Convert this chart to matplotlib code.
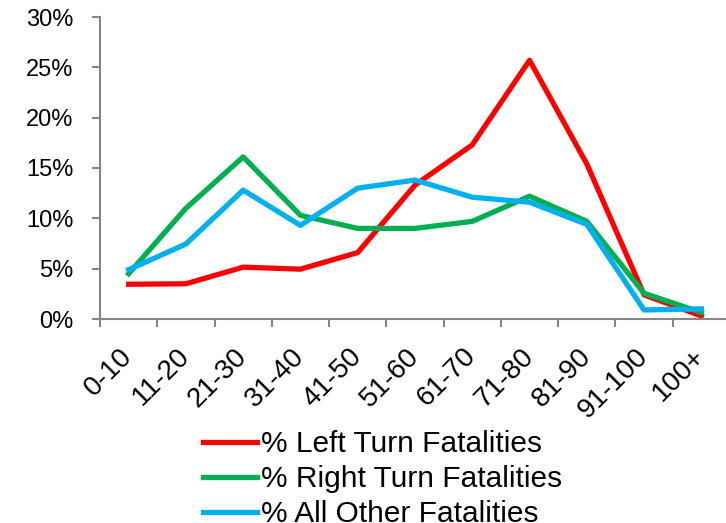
import matplotlib
matplotlib.use("Agg")
from matplotlib import pyplot as plt
from matplotlib.ticker import FixedLocator, PercentFormatter
import numpy as np

plt.rcParams['font.family'] = ['Liberation Sans', 'DejaVu Sans']

# speed bins
categories = ['0-10', '11-20', '21-30', '31-40', '41-50', '51-60',
              '61-70', '71-80', '81-90', '91-100', '100+']
# percent of fatalities in each bin
left_turn = [3.45, 3.5, 5.15, 4.95, 6.6, 13.3, 17.3, 25.7, 15.4, 2.4, 0.3]
right_turn = [4.5, 11.0, 16.1, 10.3, 9.0, 9.0, 9.7, 12.2, 9.7, 2.55, 0.65]
all_other = [4.9, 7.45, 12.8, 9.3, 13.0, 13.8, 12.1, 11.6, 9.4, 0.9, 1.0]

fig = plt.figure(figsize=(7.26, 5.23), dpi=100)
ax = fig.add_axes([100 / 726, 204 / 523, 630 / 726, 302 / 523])

x = np.arange(len(categories))
ax.plot(x, left_turn, color='#FF0000', lw=3.8, label='% Left Turn Fatalities')
ax.plot(x, right_turn, color='#00B050', lw=3.8, label='% Right Turn Fatalities')
ax.plot(x, all_other, color='#00B0F0', lw=3.8, label='% All Other Fatalities')

ax.set_xlim(-0.5, len(categories) - 0.5)
ax.set_ylim(0, 30)
ax.set_yticks(np.arange(0, 31, 5))
ax.yaxis.set_major_formatter(PercentFormatter(decimals=0))

# tick marks between categories, labels at the centers
ax.xaxis.set_major_locator(FixedLocator(np.arange(-0.5, len(categories), 1.0)))
ax.xaxis.set_minor_locator(FixedLocator(x))
ax.set_xticklabels([''] * len(ax.get_xticks()))
ax.set_xticklabels(categories, minor=True, rotation=45, ha='right', va='center',
                   rotation_mode='anchor')

for s in ['top', 'right']:
    ax.spines[s].set_visible(False)
for s in ['left', 'bottom']:
    ax.spines[s].set_color('#868686')
    ax.spines[s].set_linewidth(1.5)

ax.tick_params(axis='y', length=6, width=1.5, color='#868686', labelsize=17, pad=13)
ax.tick_params(axis='x', which='major', length=6, width=1.5, color='#868686')
ax.tick_params(axis='x', which='minor', length=0, labelsize=20, pad=24)

fig.legend(loc='upper left', bbox_to_anchor=(203 / 726, 1 - 430 / 523),
           frameon=False, fontsize=21.5, handlelength=1.8, handletextpad=0.15,
           labelspacing=0.24, borderaxespad=0, borderpad=0)

fig.savefig('out.png', dpi=100)
